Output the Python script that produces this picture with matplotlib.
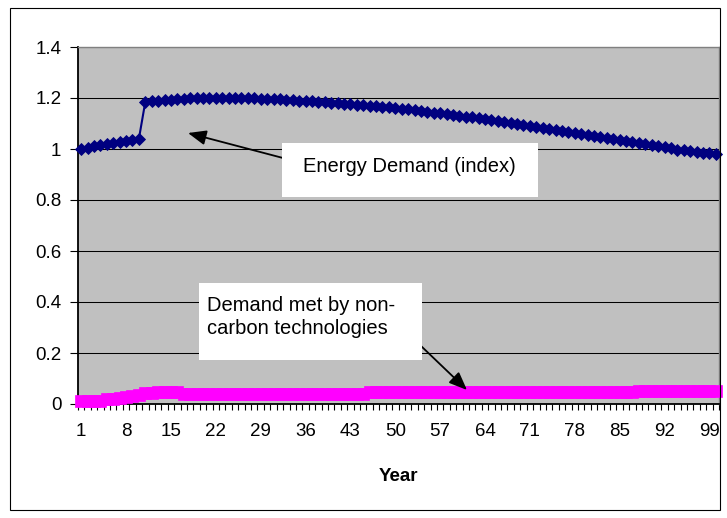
import matplotlib
matplotlib.use("Agg")
import matplotlib.pyplot as plt
from matplotlib.patches import Rectangle
from matplotlib.ticker import FixedLocator, NullFormatter

plt.rcParams['font.family'] = ['Liberation Sans', 'DejaVu Sans']

years = list(range(1, 101))
tick_years = [1, 8, 15, 22, 29, 36, 43, 50, 57, 64, 71, 78, 85, 92, 99]
y_ticks = [0, 0.2, 0.4, 0.6, 0.8, 1.0, 1.2, 1.4]
y_tick_labels = ['0', '0.2', '0.4', '0.6', '0.8', '1', '1.2', '1.4']

energy_demand = [
    1.000, 1.005, 1.010, 1.014, 1.018, 1.022, 1.026, 1.030, 1.035, 1.040,
    1.185, 1.188, 1.190, 1.192, 1.194, 1.196, 1.198, 1.199, 1.200, 1.200,
    1.201, 1.201, 1.201, 1.201, 1.201, 1.200, 1.200, 1.199, 1.198, 1.197,
    1.196, 1.195, 1.194, 1.192, 1.190, 1.189, 1.187, 1.185, 1.183, 1.181,
    1.179, 1.177, 1.175, 1.173, 1.171, 1.169, 1.167, 1.165, 1.163, 1.161,
    1.158, 1.155, 1.152, 1.149, 1.146, 1.143, 1.140, 1.137, 1.134, 1.131,
    1.127, 1.124, 1.120, 1.117, 1.113, 1.109, 1.105, 1.101, 1.098, 1.094,
    1.090, 1.086, 1.082, 1.078, 1.074, 1.070, 1.066, 1.062, 1.058, 1.054,
    1.050, 1.046, 1.042, 1.038, 1.034, 1.030, 1.026, 1.022, 1.018, 1.014,
    1.010, 1.006, 1.002, 0.998, 0.995, 0.992, 0.989, 0.986, 0.983, 0.980,
]

non_carbon = [
    0.010, 0.011, 0.012, 0.013, 0.018, 0.020, 0.022, 0.027, 0.030, 0.036,
    0.042, 0.045, 0.046, 0.046, 0.046, 0.046, 0.040, 0.040, 0.040, 0.040,
    0.040, 0.040, 0.040, 0.040, 0.040, 0.040, 0.040, 0.040, 0.040, 0.040,
    0.040, 0.040, 0.040, 0.040, 0.040, 0.040, 0.040, 0.040, 0.040, 0.040,
    0.040, 0.040, 0.040, 0.040, 0.040, 0.046, 0.046, 0.046, 0.046, 0.046,
    0.046, 0.046, 0.046, 0.046, 0.046, 0.046, 0.046, 0.046, 0.046, 0.046,
    0.046, 0.046, 0.046, 0.046, 0.046, 0.046, 0.046, 0.046, 0.046, 0.046,
    0.046, 0.046, 0.046, 0.046, 0.046, 0.046, 0.046, 0.046, 0.046, 0.046,
    0.046, 0.046, 0.046, 0.046, 0.046, 0.046, 0.046, 0.052, 0.052, 0.052,
    0.052, 0.052, 0.052, 0.052, 0.052, 0.052, 0.052, 0.052, 0.052, 0.052,
]

W, H = 727, 518
fig = plt.figure(figsize=(W / 100, H / 100), dpi=100)
fig.patch.set_facecolor('white')

def fx(x):
    return x / W

def fy(y):
    return 1 - y / H

# outer chart frame
fig.patches.append(Rectangle((fx(10), fy(510)), fx(720) - fx(10), fy(8) - fy(510),
                             transform=fig.transFigure, fill=False,
                             edgecolor='black', linewidth=0.8, zorder=0))

ax = fig.add_axes([fx(78), fy(404), fx(719) - fx(78), fy(47) - fy(404)])
ax.set_facecolor('#C0C0C0')
ax.set_xlim(0.5, 100.5)
ax.set_ylim(0, 1.4)

ax.grid(axis='y', color='black', linewidth=0.75, zorder=1)
ax.set_axisbelow(True)

ax.plot(years, non_carbon, color='#FF00FF', marker='s', markersize=8.2,
        markeredgewidth=0.5, linewidth=1.5, zorder=3, clip_on=False)
ax.plot(years, energy_demand, color='#000080', marker='D', markersize=5.8,
        markeredgewidth=0.6, linewidth=1.5, zorder=4, clip_on=False)

ax.set_yticks(y_ticks)
ax.set_yticklabels(y_tick_labels)
ax.tick_params(axis='y', direction='out', length=6, width=0.8, pad=6,
               labelsize=13.5, color='black')

ax.xaxis.set_major_locator(FixedLocator(tick_years))
ax.set_xticklabels([str(t) for t in tick_years])
ax.xaxis.set_minor_locator(FixedLocator([i + 0.5 for i in range(0, 101)]))
ax.xaxis.set_minor_formatter(NullFormatter())
ax.tick_params(axis='x', which='major', length=0, pad=14, labelsize=13.5)
ax.tick_params(axis='x', which='minor', direction='out', length=4.5, width=0.8,
               color='black')

for side in ['top', 'right']:
    ax.spines[side].set_color('#808080')
    ax.spines[side].set_linewidth(1.0)
for side in ['left', 'bottom']:
    ax.spines[side].set_color('black')
    ax.spines[side].set_linewidth(1.3)

ax.set_xlabel('Year', fontsize=13.5, fontweight='bold', labelpad=20)

# annotation boxes
fig.patches.append(Rectangle((fx(282), fy(197)), fx(538) - fx(282), fy(143) - fy(197),
                             transform=fig.transFigure, facecolor='white',
                             edgecolor='none', zorder=5))
fig.text(fx(303), fy(172), 'Energy Demand (index)', fontsize=14.5,
         ha='left', va='baseline', zorder=6)

fig.patches.append(Rectangle((fx(199), fy(360)), fx(422) - fx(199), fy(283) - fy(360),
                             transform=fig.transFigure, facecolor='white',
                             edgecolor='none', zorder=5))
fig.text(fx(207), fy(311), 'Demand met by non-', fontsize=14.5,
         ha='left', va='baseline', zorder=6)
fig.text(fx(207), fy(334), 'carbon technologies', fontsize=14.5,
         ha='left', va='baseline', zorder=6)

arrowprops = dict(arrowstyle='-|>,head_length=1.1,head_width=0.45',
                  color='black', linewidth=1.3, shrinkA=0, shrinkB=0)
ax.annotate('', xy=(fx(188), fy(133)), xycoords='figure fraction',
            xytext=(fx(283), fy(158)), textcoords='figure fraction',
            arrowprops=arrowprops, zorder=7)
ax.annotate('', xy=(fx(467), fy(390)), xycoords='figure fraction',
            xytext=(fx(420), fy(345)), textcoords='figure fraction',
            arrowprops=arrowprops, zorder=7)

fig.savefig('out.png', dpi=100)
